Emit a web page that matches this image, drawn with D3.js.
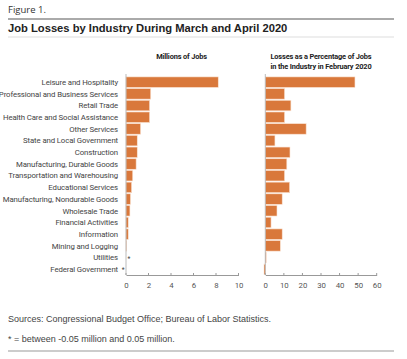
<!DOCTYPE html>
<html><head><meta charset="utf-8">
<script src="https://cdn.jsdelivr.net/npm/d3@7"></script>
<style>body{margin:0;background:#fff}svg{display:block}</style>
</head><body>
<script>
const categories = ["Leisure and Hospitality","Professional and Business Services","Retail Trade","Health Care and Social Assistance","Other Services","State and Local Government","Construction","Manufacturing, Durable Goods","Transportation and Warehousing","Educational Services","Manufacturing, Nondurable Goods","Wholesale Trade","Financial Activities","Information","Mining and Logging","Utilities","Federal Government"];
const millions = [8.2, 2.2, 2.1, 2.1, 1.3, 1.0, 1.0, 0.9, 0.6, 0.5, 0.4, 0.35, 0.2, 0.2, 0.04, null, null];
const percent = [48.3, 10.4, 13.8, 10.4, 22.0, 5.2, 13.3, 11.6, 10.4, 13.1, 9.1, 6.3, 3.1, 9.1, 8.1, 0.5, -0.7];
const asterisks = [null,null,null,null,null,null,null,null,null,null,null,null,null,null,null,0.05,-0.05];
const ticksLeft = [0,2,4,6,8,10];
const ticksRight = [0,10,20,30,40,50,60];
</script>
<script>
const W=407,H=359;
const svg=d3.select("body").append("svg").attr("width",W).attr("height",H);
svg.append("text").attr("x",8).attr("y",13).attr("font-family","Open Sans").attr("font-size",9.5).attr("fill","#333").text("Figure 1.");
svg.append("line").attr("x1",8).attr("x2",394).attr("y1",19).attr("y2",19).attr("stroke","#aaa").attr("stroke-width",2);
svg.append("text").attr("x",8).attr("y",32).attr("font-family","Liberation Sans").attr("font-weight","bold").attr("font-size",11.2).attr("fill","#222").text("Job Losses by Industry During March and April 2020");
svg.append("line").attr("x1",8).attr("x2",394).attr("y1",37).attr("y2",37).attr("stroke","#e8e8e8").attr("stroke-width",1.5);

const rows = categories.map((c,i)=>({c,m:millions[i],p:percent[i],a:asterisks[i]}));
const y=d3.scaleBand().domain(categories).range([76.9,274.5]).paddingInner(0.1).paddingOuter(0);
const xL=d3.scaleLinear().domain([0,10]).range([126,238.5]);
const xR=d3.scaleLinear().domain([0,60]).range([265.3,376.7]);
const orange="#d9783b";
const lab="Roboto";

const hdr=(x,yy,t)=>svg.append("text").attr("x",x).attr("y",yy).attr("text-anchor","middle").attr("font-family",lab).attr("font-weight","bold").attr("font-size",7.4).attr("fill","#222").attr("letter-spacing",-0.15).text(t);
hdr(181.5,59,"Millions of Jobs");
hdr(321,59,"Losses as a Percentage of Jobs");
hdr(321,68.5,"in the Industry in February 2020");

svg.append("g").selectAll("text").data(rows).join("text")
 .attr("x",118).attr("y",d=>y(d.c)+y.bandwidth()/2).attr("dy","0.35em")
 .attr("text-anchor","end").attr("font-family",lab).attr("font-size",7.8).attr("fill","#444").attr("letter-spacing",-0.12).text(d=>d.c);

function panel(x,key,ticks){
  svg.append("g").selectAll("rect").data(rows.filter(d=>d[key]!=null)).join("rect")
   .attr("x",d=>x(Math.min(0,d[key]))).attr("width",d=>Math.abs(x(d[key])-x(0)))
   .attr("y",d=>y(d.c)).attr("height",y.bandwidth()).attr("fill",orange).attr("stroke","#fbe3d3").attr("stroke-width",0.6);
  const ax=svg.append("g").attr("transform","translate(0,275)")
   .call(d3.axisBottom(x).tickValues(ticks).tickSize(0).tickPadding(7).tickFormat(d3.format("d")));
  ax.select(".domain").attr("stroke","#999");
  ax.selectAll("text").attr("font-family",lab).attr("font-size",7.8).attr("fill","#555");
  svg.append("g").selectAll("line").data(ticks).join("line").attr("x1",d=>x(d)).attr("x2",d=>x(d)).attr("y1",273).attr("y2",275).attr("stroke","#999");
  svg.append("line").attr("x1",x(0)).attr("x2",x(0)).attr("y1",74).attr("y2",275).attr("stroke","#aaa").attr("stroke-width",0.8);
}
panel(xL,"m",ticksLeft);
panel(xR,"p",ticksRight);
svg.append("g").selectAll("text").data(rows.filter(d=>d.a!=null)).join("text")
 .attr("x",d=>xL(d.a*5)).attr("y",d=>y(d.c)+y.bandwidth()/2+3.2).attr("text-anchor","middle")
 .attr("font-family",lab).attr("font-size",6.5).attr("fill","#444").text("*");

svg.append("text").attr("x",8).attr("y",322).attr("font-family","Liberation Sans").attr("font-size",9).attr("fill","#444").text("Sources: Congressional Budget Office; Bureau of Labor Statistics.");
svg.append("text").attr("x",8).attr("y",342).attr("font-family","Liberation Sans").attr("font-size",9).attr("fill","#444").text("* = between -0.05 million and 0.05 million.");
svg.append("line").attr("x1",8).attr("x2",394).attr("y1",351).attr("y2",351).attr("stroke","#bbb").attr("stroke-width",1.5);
</script>
</body></html>
